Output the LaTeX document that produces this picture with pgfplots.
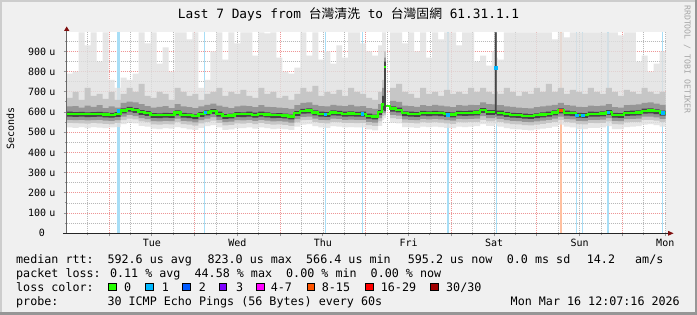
\documentclass[border=0pt]{standalone}
\usepackage{pgfplots}
\pgfplotsset{compat=1.18}
\usepgfplotslibrary{fillbetween}
\usepackage{pgfplotstable}
\usepackage{fontspec}
\setmainfont{DejaVu Sans Mono}
\newfontfamily\cjk{Noto Sans CJK TC}
\definecolor{bgc}{RGB}{240,240,240}
\definecolor{shA}{RGB}{205,205,205}
\definecolor{shB}{RGB}{150,150,150}
\definecolor{mgrid}{RGB}{238,150,150}
\definecolor{ngrid}{RGB}{185,185,185}
\definecolor{tickc}{RGB}{150,150,150}
\definecolor{s1}{RGB}{224,224,224}
\definecolor{s2}{RGB}{198,198,198}
\definecolor{s3}{RGB}{150,150,150}
\definecolor{s4}{RGB}{70,70,70}
\definecolor{medgreen}{RGB}{38,255,0}
\definecolor{lossbar}{RGB}{168,222,246}
\definecolor{lossorg}{RGB}{255,192,160}
\definecolor{lc0}{HTML}{26FF00}
\definecolor{lc1}{HTML}{00B8FF}
\definecolor{lc2}{HTML}{0059FF}
\definecolor{lc3}{HTML}{7E00FF}
\definecolor{lc4}{HTML}{FF00FF}
\definecolor{lc8}{HTML}{FF5500}
\definecolor{lc16}{HTML}{FF0000}
\definecolor{lc30}{HTML}{A00000}
\definecolor{arrowred}{RGB}{128,16,16}

% smoke percentiles (microseconds), x in days since Mon 9 Mar 00:00
\pgfplotstableread{
x lo l2 l1 cl med ch h1 h2 top
0.505 524 546 562 578 592 602 628 670 790
0.575 522 545 560 576 590 600 630 700 800
0.645 526 544 561 577 591 601 622 660 995
0.715 520 543 559 575 589 599 632 720 930
0.785 525 546 560 576 590 600 626 680 995
0.855 523 544 561 577 591 601 634 690 850
0.925 521 542 558 574 588 598 620 665 995
0.995 524 540 556 572 586 596 628 700 760
1.065 526 546 560 576 590 600 622 660 720
1.135 540 560 578 594 608 618 645 690 770
1.205 548 568 586 602 616 626 652 720 760
1.275 544 564 580 596 610 620 648 700 790
1.345 532 554 570 586 600 610 640 740 995
1.415 528 550 565 581 595 605 630 680 940
1.485 518 539 555 571 585 595 622 670 995
1.555 516 538 554 570 584 594 626 700 840
1.625 520 540 556 572 586 596 630 690 920
1.695 518 539 555 571 585 595 620 660 800
1.765 526 550 568 584 598 608 640 720 995
1.835 520 540 556 572 586 596 628 700 995
1.905 515 538 554 570 584 594 624 680 960
1.975 512 533 549 565 579 589 620 690 995
2.045 522 544 560 576 590 600 628 660 720
2.115 530 552 568 584 598 608 636 690 760
2.185 536 558 575 591 605 615 642 700 900
2.255 524 546 562 578 592 602 632 720 995
2.325 512 534 550 566 580 590 626 680 860
2.395 514 537 553 569 583 593 620 700 995
2.465 520 544 560 576 590 600 628 690 940
2.535 520 543 559 575 589 599 632 710 995
2.605 524 546 562 578 592 602 630 680 995
2.675 518 541 557 573 587 597 624 670 880
2.745 524 546 562 578 592 602 634 720 995
2.815 520 542 558 574 588 598 626 690 990
2.885 516 538 554 570 584 594 624 700 995
2.955 518 539 555 571 585 595 622 670 870
3.025 516 537 553 569 583 593 620 680 800
3.095 512 532 548 564 578 588 616 660 790
3.165 528 549 565 581 595 605 634 690 820
3.235 538 560 576 592 606 616 646 720 995
3.305 540 562 578 594 608 618 648 700 880
3.375 530 552 568 584 598 608 636 730 995
3.445 524 546 562 578 592 602 630 680 860
3.515 522 544 560 576 590 600 628 700 900
3.585 530 552 568 584 598 608 636 690 840
3.655 528 550 566 582 596 606 632 710 930
3.725 524 546 562 578 592 602 630 680 870
3.795 526 547 563 579 593 603 636 720 995
3.865 524 545 561 577 591 601 628 700 995
3.935 524 546 562 578 592 602 630 690 940
4.005 514 536 552 568 582 592 620 670 900
4.075 510 532 548 564 578 588 616 660 880
4.145 532 554 570 586 600 610 640 700 930
4.190 560 580 596 610 638 680 720 760 995
4.213 570 585 595 605 823 850 870 900 995
4.236 630 630 630 630 630 630 630 630 630
4.285 548 570 586 602 618 628 656 720 995
4.355 544 566 582 598 612 622 650 740 995
4.425 526 548 564 580 594 604 632 700 940
4.495 524 546 562 578 592 602 630 690 995
4.565 522 544 560 576 590 600 626 670 900
4.635 528 550 566 582 596 606 634 720 995
4.705 526 548 564 580 594 604 630 690 870
4.775 528 550 566 582 596 606 636 700 995
4.845 526 548 564 580 594 604 632 680 960
4.915 522 544 560 576 590 600 628 710 995
4.985 520 542 558 574 588 598 624 690 995
5.055 528 550 566 582 596 606 634 700 930
5.125 526 549 565 581 595 605 632 690 995
5.195 528 551 567 583 597 607 636 720 995
5.265 530 552 568 584 598 608 634 700 850
5.335 540 562 580 596 610 620 648 720 880
5.405 532 554 570 586 600 610 640 700 830
5.475 532 554 570 586 600 610 638 690 900
5.510 540 560 575 590 820 995 995 995 995
5.530 530 551 567 583 597 607 634 700 870
5.545 528 551 567 583 597 607 634 690 860
5.615 520 544 560 576 590 600 628 720 995
5.685 516 540 556 572 586 596 626 700 995
5.755 514 539 555 571 585 595 622 680 995
5.825 512 536 552 568 582 592 620 700 995
5.895 510 534 550 566 580 590 618 690 995
5.965 514 538 554 570 584 594 624 720 995
6.035 518 542 558 574 588 598 628 700 995
6.105 522 546 562 578 592 602 632 740 995
6.175 528 552 568 584 598 608 636 700 960
6.245 538 562 578 594 608 618 646 720 995
6.315 528 551 567 583 597 607 634 690 970
6.385 524 548 564 580 594 604 632 710 995
6.455 516 540 556 572 586 596 626 700 995
6.525 516 539 555 571 585 595 624 690 995
6.595 522 546 562 578 592 602 632 720 995
6.665 522 545 561 577 591 601 630 700 995
6.735 524 547 563 579 593 603 632 690 995
6.805 530 554 570 586 600 610 640 720 995
6.875 516 540 556 572 586 596 624 700 995
6.945 516 539 555 571 585 595 622 680 980
7.015 526 549 565 581 595 605 634 710 995
7.085 528 551 567 583 597 607 636 700 995
7.155 530 552 568 584 598 608 638 690 850
7.225 538 561 577 593 607 617 646 720 880
7.295 540 562 578 594 608 618 648 700 800
7.365 536 558 574 590 604 614 642 690 840
7.435 528 551 567 583 597 607 636 700 900
7.505 528 551 567 583 597 607 636 700 900
}\smoke

% median rtt line (nan = break)
\pgfplotstableread{
x m
0.505 592
0.575 590
0.645 591
0.715 589
0.785 590
0.855 591
0.925 588
0.995 586
1.065 590
1.135 608
1.205 616
1.275 610
1.345 600
1.415 595
1.485 585
1.555 584
1.625 586
1.695 585
1.765 598
1.835 586
1.905 584
1.975 579
2.045 590
2.115 598
2.185 605
2.255 592
2.325 580
2.395 583
2.465 590
2.535 589
2.605 592
2.675 587
2.745 592
2.815 588
2.885 584
2.955 585
3.025 583
3.095 578
3.165 595
3.235 606
3.305 608
3.375 598
3.445 592
3.515 590
3.585 598
3.655 596
3.725 592
3.795 593
3.865 591
3.935 592
4.005 582
4.075 578
4.145 600
4.190 638
4.2125 638
4.2126 nan
4.213 823
4.2355 823
4.2356 nan
4.236 630
4.285 618
4.355 612
4.425 594
4.495 592
4.565 590
4.635 596
4.705 594
4.775 596
4.845 594
4.915 590
4.985 588
5.055 596
5.125 595
5.195 597
5.265 598
5.335 610
5.405 600
5.475 600
5.5095 600
5.5096 nan
5.510 820
5.5295 820
5.5296 nan
5.530 597
5.545 597
5.615 590
5.685 586
5.755 585
5.825 582
5.895 580
5.965 584
6.035 588
6.105 592
6.175 598
6.245 608
6.315 597
6.385 594
6.455 586
6.525 585
6.595 592
6.665 591
6.735 593
6.805 600
6.875 586
6.945 585
7.015 595
7.085 597
7.155 598
7.225 607
7.295 608
7.365 604
7.435 597
7.505 597
}\median

\tikzset{lg/.style={anchor=base west, inner sep=0pt, font=\fontsize{11.7}{14}\selectfont}}

\begin{document}
\begin{tikzpicture}[x=1pt,y=1pt]
\pgfplotsset{set layers}
\begin{pgfonlayer}{axis background}
\fill[bgc] (0,0) rectangle (697,315);
\fill[shA] (0,0) rectangle (2,315);
\fill[shA] (0,313) rectangle (697,315);
\fill[shB] (694.5,0) rectangle (697,315);
\fill[shB] (0,0) rectangle (697,2.5);
\end{pgfonlayer}

\begin{axis}[
  at={(66.7pt,81.7pt)}, anchor=south west,
  width=599pt, height=201pt, scale only axis,
  xmin=0.505, xmax=7.505, ymin=0, ymax=995,
  axis background/.style={fill=white},
  axis x line*=bottom, axis y line*=left,
  axis line style={draw=none},
  xtick={1,2,3,4,5,6,7},
  xticklabels={,,,,,,},
  extra x ticks={1.5,2.5,3.5,4.5,5.5,6.5,7.5},
  extra x tick labels={Tue,Wed,Thu,Fri,Sat,Sun,Mon},
  extra x tick style={grid=none, xticklabel style={anchor=north, inner sep=0pt, yshift=-2.6pt}},
  minor xtick={0.75,1.25,1.5,1.75,2.25,2.5,2.75,3.25,3.5,3.75,4.25,4.5,4.75,5.25,5.5,5.75,6.25,6.5,6.75,7.25,7.5},
  ytick={0,100,200,300,400,500,600,700,800,900},
  yticklabels={0,100 u,200 u,300 u,400 u,500 u,600 u,700 u,800 u,900 u},
  minor ytick={50,150,250,350,450,550,650,750,850,950},
  xmajorgrids, ymajorgrids, xminorgrids, yminorgrids,
  major grid style={mgrid, line width=0.9pt, dash pattern=on 1pt off 1pt},
  minor grid style={ngrid, line width=0.9pt, dash pattern=on 1pt off 1pt},
  tick align=outside,
  major tick length=3pt, minor tick length=2pt,
  tick style={tickc, line width=1pt},
  ticklabel style={font=\fontsize{10}{12}\selectfont},
  yticklabel style={anchor=east, text width=30pt, align=center, inner sep=0pt, xshift=-6.7pt},
]
% packet loss bars
\addplot[ycomb, on layer=pre main, draw=lossbar, line width=3.3pt, mark=none] coordinates {(1.109,995)};
\addplot[ycomb, on layer=pre main, draw=lossbar, line width=2pt, mark=none] coordinates {(4.957,995) (6.831,995)};
\addplot[ycomb, on layer=pre main, draw=lossbar, line width=1pt, mark=none] coordinates {(2.121,995) (3.524,995) (3.959,995) (5.522,995) (6.465,995) (6.533,995) (7.468,995)};
\addplot[ycomb, on layer=pre main, draw=lossorg, line width=2pt, mark=none] coordinates {(6.278,995)};

% smoke
\addplot[const plot, draw=none, name path=lo] table[x=x,y=lo]{\smoke};
\addplot[const plot, draw=none, name path=l2] table[x=x,y=l2]{\smoke};
\addplot[const plot, draw=none, name path=l1] table[x=x,y=l1]{\smoke};
\addplot[const plot, draw=none, name path=cl] table[x=x,y=cl]{\smoke};
\addplot[const plot, draw=none, name path=ch] table[x=x,y=ch]{\smoke};
\addplot[const plot, draw=none, name path=h1] table[x=x,y=h1]{\smoke};
\addplot[const plot, draw=none, name path=h2] table[x=x,y=h2]{\smoke};
\addplot[const plot, draw=none, name path=top] table[x=x,y=top]{\smoke};
\addplot[fill=s1, fill opacity=0.8, draw=none] fill between[of=top and lo];
\addplot[fill=s2, draw=none] fill between[of=h2 and l2];
\addplot[fill=s3, draw=none] fill between[of=h1 and l1];
\addplot[fill=s4, draw=none] fill between[of=ch and cl];

% median
\addplot[const plot, medgreen, line width=2.2pt, unbounded coords=jump] table[x=x,y=m]{\median};
\addplot[only marks, mark=square*, mark size=1.2pt, color=lc1] coordinates {(1.109,606) (2.121,598) (3.524,590) (3.959,592) (4.957,588) (5.520,820) (6.465,586) (6.533,585) (6.831,600) (7.468,597)};
\addplot[only marks, mark=square*, mark size=1.2pt, color=lc8] coordinates {(6.278,608)};
\end{axis}

% axis lines with arrows
\draw[line width=1pt, black!85] (63,81.7) -- (668,81.7);
\fill[arrowred] (668,79.2) -- (673.5,81.7) -- (668,84.2) -- cycle;
\draw[line width=1pt, black!60] (66.7,81.7) -- (66.7,284);
\fill[arrowred] (64,284) -- (66.7,288.5) -- (69.4,284) -- cycle;

% title
\node[anchor=base, inner sep=0pt] at (348.5,296) {\fontsize{12.8}{15}\selectfont Last 7 Days from {\cjk 台灣清洗} to {\cjk 台灣固網} 61.31.1.1};
% y label
\node[rotate=90, inner sep=0pt, font=\fontsize{10}{12}\selectfont] at (10.5,186.7) {Seconds};
% watermark
\node[rotate=-90, anchor=west, inner sep=0pt, text=black!35, font=\fontsize{8.2}{10}\selectfont] at (687.3,310) {RRDTOOL / TOBI OETIKER};

% legend
\node[lg] at (16,51) {median rtt:};
\node[lg] at (107.3,51) {592.6 us avg};
\node[lg] at (207.3,51) {823.0 us max};
\node[lg] at (306,51) {566.4 us min};
\node[lg] at (407.7,51) {595.2 us now};
\node[lg] at (506.7,51) {0.0 ms sd};
\node[lg] at (586.7,51) {14.2};
\node[lg] at (635,51) {am/s};

\node[lg] at (16,37) {packet loss: 0.11 \% avg~~44.58 \% max~~0.00 \% min~~0.00 \% now};

\node[lg] at (16,23) {loss color:};
\foreach \bx/\lx/\c/\t in {108.5/124/lc0/0, 145.7/161.7/lc1/1, 182.7/198.7/lc2/2, 219.3/236/lc3/3, 256.7/270.7/lc4/4-7, 307.3/321.7/lc8/8-15, 365.7/380.7/lc16/16-29}{
  \filldraw[fill=\c, draw=black, line width=0.9pt] (\bx,24.2) rectangle ++(7.6,7.6);
  \node[lg] at (\lx,23) {\t};
}
\filldraw[fill=lc30, draw=black, line width=0.9pt] (430.7,24.2) rectangle ++(7.6,7.6);
\node[lg] at (446,23) {30/30};

\node[lg] at (16,9) {probe:};
\node[lg] at (107.3,9) {30 ICMP Echo Pings (56 Bytes) every 60s};
\node[anchor=base east, inner sep=0pt, font=\fontsize{11.7}{14}\selectfont] at (680,9) {Mon Mar 16 12:07:16 2026};

\pgfresetboundingbox
\useasboundingbox (0,0) rectangle (697,315);
\end{tikzpicture}
\end{document}
